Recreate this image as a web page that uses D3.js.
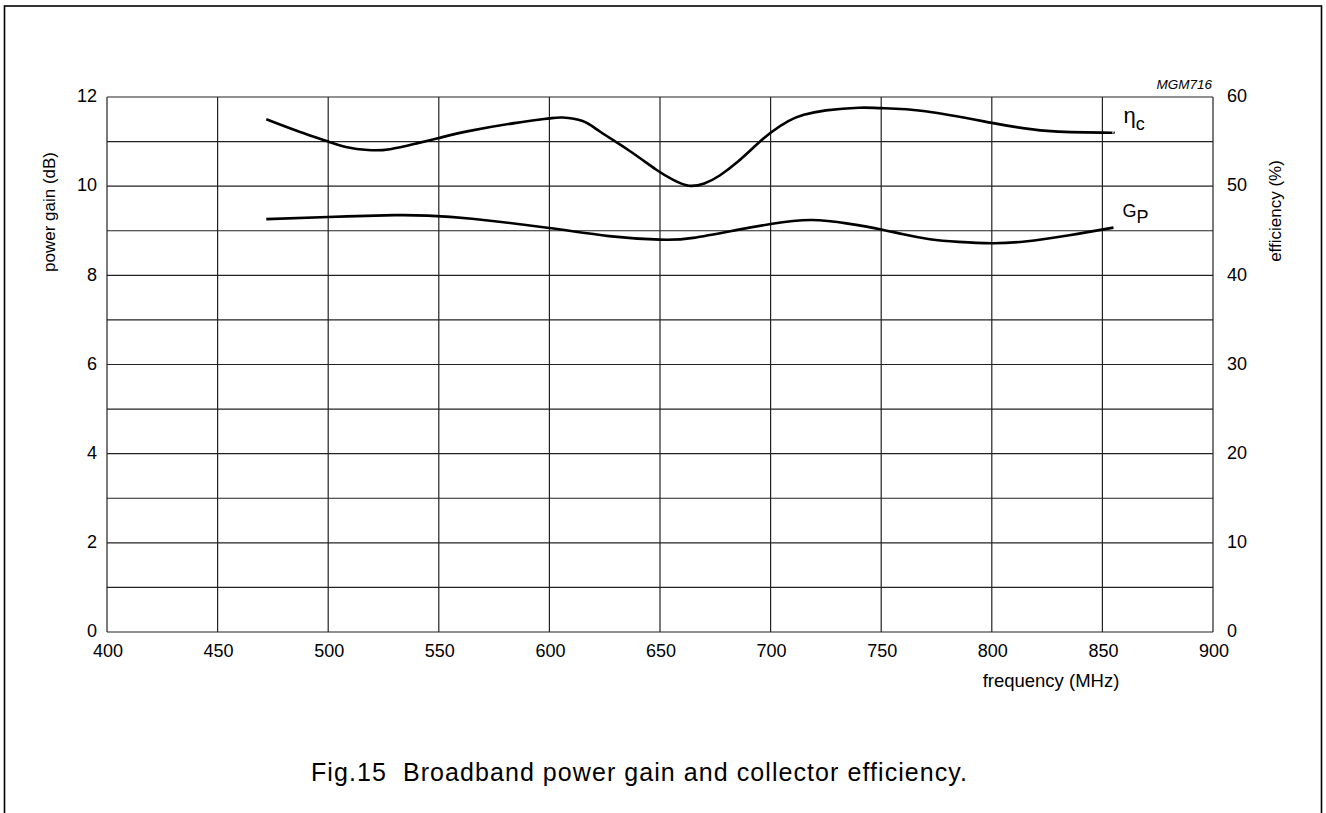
<!DOCTYPE html>
<html>
<head>
<meta charset="utf-8">
<script src="https://cdn.jsdelivr.net/npm/d3@7"></script>
<style>
  html, body { margin: 0; padding: 0; background: #fff; }
  svg { display: block; font-family: "Liberation Sans", Arial, sans-serif; }
</style>
</head>
<body>
<svg id="chart" width="1326" height="813"></svg>
<script>
// Broadband power gain and collector efficiency (Fig.15)

// --- Data ---
var freqTicks = [400, 450, 500, 550, 600, 650, 700, 750, 800, 850, 900];
var gainTicks = [0, 2, 4, 6, 8, 10, 12];
var effTicks = [0, 10, 20, 30, 40, 50, 60];

var effFreq = [472, 487, 500, 508, 518, 528, 540, 550, 564, 585, 600, 606, 615, 623, 636, 648, 656, 663, 670, 677, 685, 693, 700, 708, 715, 725, 740, 750, 770, 800, 825, 850, 855];
var effValues = [57.5, 56.1, 55.0, 54.4, 54.05, 54.15, 54.8, 55.4, 56.2, 57.1, 57.6, 57.7, 57.3, 56.1, 54.0, 51.9, 50.7, 50.05, 50.3, 51.2, 52.7, 54.5, 56.0, 57.3, 58.0, 58.5, 58.8, 58.75, 58.4, 57.1, 56.2, 56.0, 56.0];

var gainFreq = [472, 500, 530, 545, 565, 600, 627, 650, 665, 685, 700, 718, 735, 750, 760, 772, 785, 800, 815, 835, 855];
var gainValues = [9.26, 9.31, 9.35, 9.34, 9.27, 9.06, 8.88, 8.80, 8.84, 9.02, 9.15, 9.24, 9.16, 9.03, 8.92, 8.81, 8.75, 8.72, 8.76, 8.90, 9.07];

(function () {
  "use strict";

  var svg = d3.select("#chart");

  // plot box
  var left = 107, right = 1213, top = 97, bottom = 632;

  var x = d3.scaleLinear().domain([400, 900]).range([left, right]);
  var yGain = d3.scaleLinear().domain([0, 12]).range([bottom, top]);
  var yEff = d3.scaleLinear().domain([0, 60]).range([bottom, top]);

  // outer frame (bottom edge runs off the page)
  svg.append("rect")
    .attr("x", 4.5).attr("y", 6)
    .attr("width", 1317).attr("height", 900)
    .attr("fill", "none")
    .attr("stroke", "#000")
    .attr("stroke-width", 1.6);

  // --- Grid ---
  var grid = svg.append("g").attr("stroke", "#222").attr("stroke-width", 1.2);
  grid.selectAll("line.v")
    .data(freqTicks)
    .enter().append("line")
    .attr("class", "v")
    .attr("x1", function (d) { return x(d); })
    .attr("x2", function (d) { return x(d); })
    .attr("y1", top).attr("y2", bottom);

  grid.selectAll("line.h")
    .data(d3.range(0, 13))
    .enter().append("line")
    .attr("class", "h")
    .attr("x1", left).attr("x2", right)
    .attr("y1", function (d) { return yGain(d); })
    .attr("y2", function (d) { return yGain(d); });

  // --- Tick labels ---
  var tickSize = "18px";
  svg.append("g").selectAll("text")
    .data(gainTicks)
    .enter().append("text")
    .attr("x", left - 10)
    .attr("y", function (d) { return yGain(d) - 1; })
    .attr("dy", "0.35em")
    .attr("text-anchor", "end")
    .attr("font-size", tickSize)
    .text(function (d) { return d; });

  svg.append("g").selectAll("text")
    .data(effTicks)
    .enter().append("text")
    .attr("x", right + 14)
    .attr("y", function (d) { return yEff(d) - 1; })
    .attr("dy", "0.35em")
    .attr("text-anchor", "start")
    .attr("font-size", tickSize)
    .text(function (d) { return d; });

  svg.append("g").selectAll("text")
    .data(freqTicks)
    .enter().append("text")
    .attr("x", function (d) { return x(d) + 1; })
    .attr("y", 657)
    .attr("text-anchor", "middle")
    .attr("font-size", tickSize)
    .text(function (d) { return d; });

  // --- Axis titles ---
  svg.append("text")
    .attr("transform", "translate(55,212) rotate(-90)")
    .attr("text-anchor", "middle")
    .attr("font-size", "17px")
    .text("power gain (dB)");

  svg.append("text")
    .attr("transform", "translate(1281,211) rotate(-90)")
    .attr("text-anchor", "middle")
    .attr("font-size", "17px")
    .text("efficiency (%)");

  svg.append("text")
    .attr("x", 1051).attr("y", 687)
    .attr("text-anchor", "middle")
    .attr("font-size", "18.5px")
    .text("frequency (MHz)");

  svg.append("text")
    .attr("x", right - 1).attr("y", 89)
    .attr("text-anchor", "end")
    .attr("font-size", "13.5px")
    .attr("font-style", "italic")
    .text("MGM716");

  // --- Curves (smooth, drawn through the read-off points) ---
  var effLine = d3.line()
    .x(function (d, i) { return x(effFreq[i]); })
    .y(function (d) { return yEff(d); })
    .curve(d3.curveNatural);

  var gainLine = d3.line()
    .x(function (d, i) { return x(gainFreq[i]); })
    .y(function (d) { return yGain(d); })
    .curve(d3.curveNatural);

  svg.append("path")
    .attr("d", effLine(effValues))
    .attr("fill", "none")
    .attr("stroke", "#000")
    .attr("stroke-width", 2.6);

  svg.append("path")
    .attr("d", gainLine(gainValues))
    .attr("fill", "none")
    .attr("stroke", "#000")
    .attr("stroke-width", 2.6);

  // --- Curve labels ---
  var lastEff = effValues[effValues.length - 1];
  var etaLabel = svg.append("text")
    .attr("x", x(effFreq[effFreq.length - 1]) + 10)
    .attr("y", yEff(lastEff) - 10)
    .attr("font-size", "22px");
  etaLabel.append("tspan").text("\u03b7");
  etaLabel.append("tspan").attr("dy", 7).attr("font-size", "18px").text("c");

  var lastGain = gainValues[gainValues.length - 1];
  var gpLabel = svg.append("text")
    .attr("x", x(gainFreq[gainFreq.length - 1]) + 9)
    .attr("y", yGain(lastGain) - 11)
    .attr("font-size", "18px");
  gpLabel.append("tspan").text("G");
  gpLabel.append("tspan").attr("dy", 6).text("P");

  // --- Caption ---
  svg.append("text")
    .attr("x", 639).attr("y", 781)
    .attr("text-anchor", "middle")
    .attr("font-size", "25px")
    .attr("textLength", 656)
    .attr("lengthAdjust", "spacing")
    .style("white-space", "pre")
    .text("Fig.15  Broadband power gain and collector efficiency.");
})();
</script>
</body>
</html>
